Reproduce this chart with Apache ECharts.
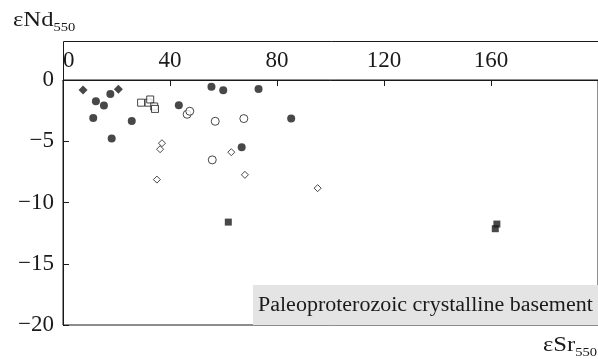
<!DOCTYPE html>
<html>
<head>
<meta charset="utf-8">
<script src="https://cdn.jsdelivr.net/npm/echarts@6/dist/echarts.min.js"></script>
<style>
  html, body { margin: 0; padding: 0; background: #fff; }
  #chart { width: 598px; height: 359px; }
</style>
</head>
<body>
<div id="chart"></div>
<script>
// εSr550 / εNd550 pairs, grouped by rock type
const filledCircles = [
  [12.3, -1.74], [15.3, -2.09], [17.7, -1.14], [11.3, -3.10], [25.7, -3.34],
  [18.2, -4.78], [43.3, -2.06], [55.5, -0.55], [59.9, -0.84], [73.1, -0.73],
  [85.3, -3.15], [66.8, -5.48]
];
const filledDiamonds = [[7.5, -0.81], [20.7, -0.76]];
const openSquares = [[29.2, -1.85], [32.0, -1.85], [32.6, -1.59], [34.1, -2.16], [34.4, -2.36]];
const openCircles = [[46.4, -2.80], [47.4, -2.55], [56.9, -3.37], [67.6, -3.15], [55.8, -6.52]];
const openDiamonds = [[37.0, -5.16], [36.3, -5.65], [35.1, -8.13], [62.9, -5.89], [68.0, -7.74], [95.2, -8.83]];
const filledSquares = [[61.8, -11.60], [162.2, -11.76], [161.6, -12.14]];

const xTicks = [0, 40, 80, 120, 160];
const yTicks = [-20, -15, -10, -5, 0];
const boxLabel = 'Paleoproterozoic crystalline basement';

const ink = '#1a1a1a';
const serif = '"Liberation Serif", "DejaVu Serif", serif';

// plot area: x axis sits on the zero line, with a header strip above it
const G = { left: 63, top: 80, right: -15, bottom: 34 };
const frameTop = 41;

const chart = echarts.init(document.getElementById('chart'), null, { renderer: 'canvas' });

function scatter(name, data, symbol, size, filled) {
  return {
    name, type: 'scatter', data, symbol, symbolSize: size,
    itemStyle: filled
      ? { color: ink, borderWidth: 0 }
      : { color: '#fff', borderColor: ink, borderWidth: 1 },
    emphasis: { disabled: true },
    z: 5
  };
}

const titleRich = {
  m: { fontFamily: serif, fontSize: 22, fill: ink, verticalAlign: 'top' },
  s: { fontFamily: serif, fontSize: 13, fill: ink, padding: [12, 0, 0, 0], verticalAlign: 'top' }
};

chart.setOption({
  animation: false,
  backgroundColor: '#fff',
  grid: {
    left: G.left, right: G.right, top: G.top, bottom: G.bottom,
    show: true, borderColor: ink, borderWidth: 1, backgroundColor: 'transparent'
  },
  xAxis: {
    type: 'value', min: 0, max: 200, position: 'top',
    axisLine: { show: true, onZero: false, lineStyle: { color: ink, width: 1 } },
    axisTick: { show: true, inside: true, length: 6, customValues: xTicks, lineStyle: { color: ink } },
    axisLabel: {
      customValues: xTicks, color: ink, fontFamily: serif, fontSize: 23, margin: 8,
      alignMinLabel: 'left'
    },
    splitLine: { show: false }
  },
  yAxis: {
    type: 'value', min: -20, max: 0,
    axisLine: { show: true, lineStyle: { color: ink, width: 1 } },
    axisTick: { show: true, inside: true, length: 6, customValues: yTicks, lineStyle: { color: ink } },
    axisLabel: {
      customValues: yTicks, color: ink, fontFamily: serif, fontSize: 23, margin: 9,
      formatter: v => (v < 0 ? '\u2212' + Math.abs(v) : String(v))
    },
    splitLine: { show: false }
  },
  graphic: [
    // frame of the header strip holding the εSr scale
    {
      type: 'polyline', z: 3, silent: true,
      shape: { points: [[G.left + 0.5, G.top], [G.left + 0.5, frameTop + 0.5], [600, frameTop + 0.5]] },
      style: { stroke: ink, lineWidth: 1, fill: null }
    },
    {
      type: 'rect', z: 1,
      shape: { x: 253, y: 285, width: 360, height: 40 },
      style: { fill: '#e4e4e4' }
    },
    {
      type: 'text', z: 2, x: 258, y: 306, scaleX: 1.1,
      style: {
        text: boxLabel, fill: ink, font: '20px ' + serif,
        verticalAlign: 'middle'
      }
    },
    {
      type: 'text', x: 13, y: 9, scaleX: 1.12,
      style: { text: '{m|εNd}{s|550}', fill: ink, rich: titleRich }
    },
    {
      type: 'text', x: 597, y: 334, scaleX: 1.12,
      style: { text: '{m|εSr}{s|550}', fill: ink, align: 'right', rich: titleRich }
    }
  ],
  series: [
    scatter('filled circles', filledCircles, 'circle', 8, true),
    scatter('filled diamonds', filledDiamonds, 'diamond', 9, true),
    scatter('open squares', openSquares, 'rect', 7, false),
    scatter('open circles', openCircles, 'circle', 8, false),
    scatter('open diamonds', openDiamonds, 'diamond', 7, false),
    scatter('filled squares', filledSquares, 'rect', 7, true)
  ]
});
</script>
</body>
</html>
